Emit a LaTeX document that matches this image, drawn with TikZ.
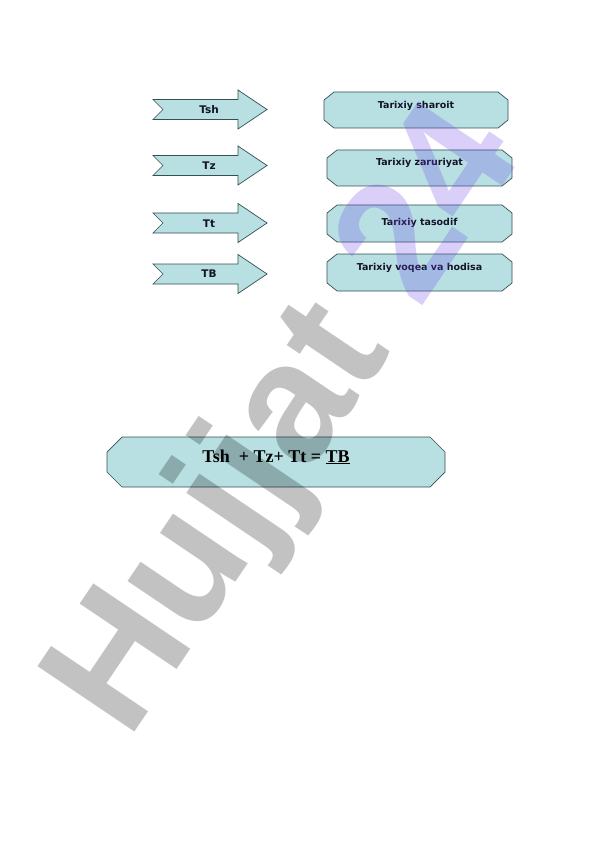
\documentclass[tikz,border=0pt]{standalone}
\usepackage{fontspec}
\setmainfont{Liberation Serif}
\newfontfamily\lblfont{DejaVu Sans}
\newfontfamily\wmfont{Liberation Sans}
\definecolor{boxfill}{HTML}{B8E0E2}
\definecolor{boxline}{HTML}{34504F}
\definecolor{wmpurple}{RGB}{110,70,235}
\definecolor{lbltext}{HTML}{141428}
\tikzset{
  shapebox/.style={fill=boxfill, draw=boxline, line width=0.7pt, line join=miter},
  arrowlbl/.style={font=\lblfont\bfseries\fontsize{10.5}{12}\selectfont, text=lbltext, inner sep=0pt},
  boxlbl/.style={font=\lblfont\bfseries\fontsize{9.5}{11}\selectfont, text=lbltext, inner sep=0pt},
  wmtext/.style={font=\wmfont\bfseries\fontsize{170}{170}\selectfont, inner sep=0pt, anchor=base west, rotate=56},
  notcharrow/.pic={
    \filldraw[shapebox] (0,-10) -- (85,-10) -- (85,-19.5) -- (114,0) -- (85,19.5) -- (85,10) -- (0,10) -- (10,0) -- cycle;
  }
}
\newcommand\chambox[6]{% x1 y1 x2 y2 cx cy
  \filldraw[shapebox] ({#1+#5},#2) -- ({#3-#5},#2) -- (#3,{#2+#6}) -- (#3,{#4-#6}) -- ({#3-#5},#4) -- ({#1+#5},#4) -- (#1,{#4-#6}) -- (#1,{#2+#6}) -- cycle;}
\begin{document}
\begin{tikzpicture}[x=1pt,y=-1pt]
\useasboundingbox (0,0) rectangle (596,842);
\fill[white] (0,0) rectangle (596,842);

% left arrows
\pic at (153,109.5) {notcharrow};
\pic at (153,165.5) {notcharrow};
\pic at (153,223) {notcharrow};
\pic at (153,274) {notcharrow};
\node[arrowlbl] (tsh) at (209,109.5) {Tsh};
\node[arrowlbl] (tz)  at (209,166) {Tz};
\node[arrowlbl] (tt)  at (209,223.5) {Tt};
\node[arrowlbl] (tb)  at (209,274) {TB};

% right boxes
\chambox{324}{92}{508}{128}{10}{8}
\chambox{327}{150}{512}{186}{10}{8}
\chambox{327}{205}{512}{242}{10}{8}
\chambox{327}{254}{512}{291}{10}{8}
\node[boxlbl] (b1) at (416,106) {Tarixiy sharoit};
\node[boxlbl] (b2) at (419.5,163) {Tarixiy zaruriyat};
\node[boxlbl] (b3) at (419.5,223) {Tarixiy tasodif};
\node[boxlbl] (b4) at (419.5,268) {Tarixiy voqea va hodisa};

% formula box
\chambox{107}{437}{445}{487}{15}{15}
\node[font=\bfseries\fontsize{18}{20}\selectfont, inner sep=0pt] (formula) at (276,457) {Tsh\ \ + Tz+ Tt = \underline{TB}};

% watermark
\node[wmtext, text=black, text opacity=0.24] (hj) at (128,742) {Hujjat\kern0.28em};
\node[wmtext, text=wmpurple, text opacity=0.26] (n24) at (hj.base east) {24};
\end{tikzpicture}
\end{document}
